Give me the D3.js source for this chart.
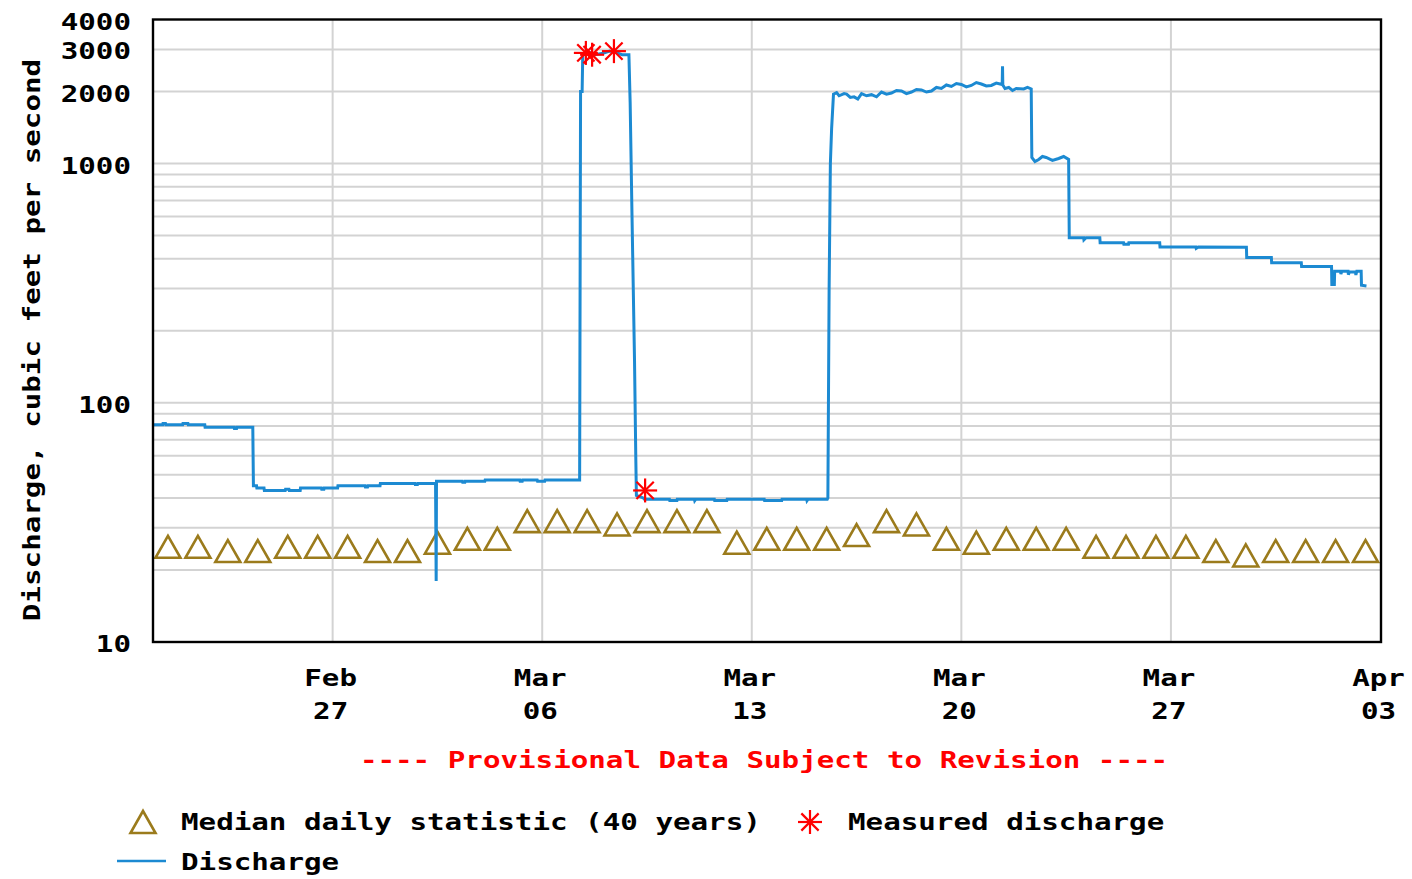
<!DOCTYPE html>
<html>
<head>
<meta charset="utf-8">
<script src="https://cdn.jsdelivr.net/npm/d3@7/dist/d3.min.js"></script>
<style>
  html, body { margin: 0; padding: 0; background: #fff; }
  svg { display: block; }
</style>
</head>
<body>
<svg id="chart" width="1412" height="879"></svg>
<script>
// Daily median of discharge (40 years), one value per day at noon, Feb 21 - Apr 2
const medianDays = ["2023-02-21","2023-02-22","2023-02-23","2023-02-24","2023-02-25","2023-02-26","2023-02-27",
  "2023-02-28","2023-03-01","2023-03-02","2023-03-03","2023-03-04","2023-03-05","2023-03-06","2023-03-07",
  "2023-03-08","2023-03-09","2023-03-10","2023-03-11","2023-03-12","2023-03-13","2023-03-14","2023-03-15",
  "2023-03-16","2023-03-17","2023-03-18","2023-03-19","2023-03-20","2023-03-21","2023-03-22","2023-03-23",
  "2023-03-24","2023-03-25","2023-03-26","2023-03-27","2023-03-28","2023-03-29","2023-03-30","2023-03-31",
  "2023-04-01","2023-04-02"];
const medianValues = [25,25,24,24,25,25,25,24,24,26,27,27,32,32,32,31,32,32,32,26,27,27,27,28,32,31,27,26,27,27,27,
  25,25,25,25,24,23,24,24,24,24];

// Field measurements of discharge
const measuredTimes = ["2023-03-07T11:00","2023-03-07T16:00","2023-03-08T09:30","2023-03-09T10:30"];
const measuredValues = [2900, 2850, 2950, 43];

// Provisional discharge record, cubic feet per second
const discharge = [
  ["2023-02-21T00:00", 81], ["2023-02-21T07:45", 81], ["2023-02-21T08:00", 82], ["2023-02-21T10:00", 82],
  ["2023-02-21T10:15", 81], ["2023-02-21T23:45", 81], ["2023-02-22T00:00", 82], ["2023-02-22T04:00", 82],
  ["2023-02-22T04:15", 81], ["2023-02-22T17:30", 81], ["2023-02-22T17:45", 79], ["2023-02-23T17:00", 79],
  ["2023-02-23T17:15", 78], ["2023-02-23T19:00", 78], ["2023-02-23T19:15", 79], ["2023-02-24T08:00", 79],
  ["2023-02-24T08:30", 45], ["2023-02-24T11:00", 45], ["2023-02-24T11:15", 44], ["2023-02-24T17:00", 44],
  ["2023-02-24T17:15", 43], ["2023-02-25T10:00", 43], ["2023-02-25T10:15", 43.5], ["2023-02-25T13:00", 43.5],
  ["2023-02-25T13:15", 43], ["2023-02-25T22:00", 43], ["2023-02-25T22:15", 44], ["2023-02-26T15:00", 44],
  ["2023-02-26T15:15", 43.5], ["2023-02-26T17:00", 43.5], ["2023-02-26T17:15", 44], ["2023-02-27T04:00", 44],
  ["2023-02-27T04:15", 45], ["2023-02-28T02:00", 45], ["2023-02-28T02:15", 44.5], ["2023-02-28T04:00", 44.5],
  ["2023-02-28T04:15", 45], ["2023-02-28T14:00", 45], ["2023-02-28T14:15", 46], ["2023-03-01T18:00", 46],
  ["2023-03-01T18:15", 45.5], ["2023-03-01T20:00", 45.5], ["2023-03-01T20:15", 46], ["2023-03-02T10:30", 46],
  ["2023-03-02T11:00", 18], ["2023-03-02T11:15", 47], ["2023-03-03T08:00", 47], ["2023-03-03T08:15", 46.5],
  ["2023-03-03T10:00", 46.5], ["2023-03-03T10:15", 47], ["2023-03-04T02:00", 47], ["2023-03-04T02:15", 47.5],
  ["2023-03-05T06:00", 47.5], ["2023-03-05T06:15", 47], ["2023-03-05T08:00", 47], ["2023-03-05T08:15", 47.5],
  ["2023-03-05T20:00", 47.5], ["2023-03-05T20:15", 47], ["2023-03-06T02:00", 47], ["2023-03-06T02:15", 47.5],
  ["2023-03-07T06:00", 47.5], ["2023-03-07T06:45", 2000], ["2023-03-07T08:00", 2000], ["2023-03-07T08:30", 2850],
  ["2023-03-07T14:00", 2900], ["2023-03-07T14:15", 2800], ["2023-03-07T18:00", 2850], ["2023-03-08T02:00", 2900],
  ["2023-03-08T06:00", 2950], ["2023-03-08T12:00", 2900], ["2023-03-08T16:00", 2850], ["2023-03-08T21:30", 2850],
  ["2023-03-08T22:30", 1800], ["2023-03-09T00:00", 600], ["2023-03-09T02:00", 150], ["2023-03-09T03:00", 60],
  ["2023-03-09T03:30", 41], ["2023-03-09T09:00", 40], ["2023-03-09T10:00", 39.5], ["2023-03-10T06:00", 39.5],
  ["2023-03-10T06:15", 39], ["2023-03-10T12:00", 39], ["2023-03-10T12:15", 39.5], ["2023-03-11T02:00", 39.5],
  ["2023-03-11T02:15", 39], ["2023-03-11T03:00", 39.5], ["2023-03-11T18:00", 39.5],
  ["2023-03-11T18:15", 39], ["2023-03-12T04:00", 39], ["2023-03-12T04:15", 39.5], ["2023-03-13T10:00", 39.5],
  ["2023-03-13T10:15", 39], ["2023-03-14T00:00", 39], ["2023-03-14T00:15", 39.5], ["2023-03-14T20:00", 39.5],
  ["2023-03-14T20:15", 39], ["2023-03-14T21:00", 39.5], ["2023-03-15T12:30", 39.5],
  ["2023-03-15T13:00", 40], ["2023-03-15T14:00", 300], ["2023-03-15T15:00", 1000], ["2023-03-15T16:00", 1400],
  ["2023-03-15T17:30", 1950], ["2023-03-15T20:00", 1980], ["2023-03-15T22:00", 1920], ["2023-03-16T02:00", 1960],
  ["2023-03-16T04:00", 1950], ["2023-03-16T07:00", 1890], ["2023-03-16T10:00", 1900], ["2023-03-16T13:00", 1860],
  ["2023-03-16T16:00", 1960], ["2023-03-16T20:00", 1920], ["2023-03-17T00:00", 1940], ["2023-03-17T04:00", 1900],
  ["2023-03-17T08:00", 1990], ["2023-03-17T12:00", 1950], ["2023-03-17T16:00", 1970], ["2023-03-17T20:00", 2020],
  ["2023-03-18T00:00", 2010], ["2023-03-18T04:00", 1960], ["2023-03-18T08:00", 1990], ["2023-03-18T12:00", 2040],
  ["2023-03-18T16:00", 2030], ["2023-03-18T20:00", 1990], ["2023-03-19T00:00", 2010], ["2023-03-19T04:00", 2080],
  ["2023-03-19T08:00", 2060], ["2023-03-19T12:00", 2130], ["2023-03-19T16:00", 2100], ["2023-03-19T20:00", 2160],
  ["2023-03-20T00:00", 2140], ["2023-03-20T04:00", 2090], ["2023-03-20T08:00", 2120], ["2023-03-20T12:00", 2180],
  ["2023-03-20T16:00", 2150], ["2023-03-20T20:00", 2110], ["2023-03-21T00:00", 2120], ["2023-03-21T04:00", 2170],
  ["2023-03-21T08:45", 2140], ["2023-03-21T09:00", 2550],
  ["2023-03-21T09:15", 2130], ["2023-03-21T11:00", 2060], ["2023-03-21T14:00", 2080], ["2023-03-21T17:00", 2020],
  ["2023-03-21T20:00", 2060], ["2023-03-22T02:00", 2050], ["2023-03-22T05:00", 2080],
  ["2023-03-22T08:00", 2050], ["2023-03-22T08:30", 1060], ["2023-03-22T11:00", 1020], ["2023-03-22T14:00", 1040],
  ["2023-03-22T17:00", 1070], ["2023-03-22T20:00", 1060], ["2023-03-23T01:00", 1030],
  ["2023-03-23T06:00", 1050], ["2023-03-23T10:00", 1070], ["2023-03-23T14:00", 1040], ["2023-03-23T14:30", 490],
  ["2023-03-24T02:00", 490], ["2023-03-24T02:15", 480], ["2023-03-24T04:00", 490], ["2023-03-24T15:00", 490],
  ["2023-03-24T15:15", 467], ["2023-03-25T10:00", 467], ["2023-03-25T10:15", 460], ["2023-03-25T14:00", 460],
  ["2023-03-25T14:15", 467], ["2023-03-26T15:00", 467], ["2023-03-26T15:15", 448], ["2023-03-27T20:00", 448],
  ["2023-03-27T20:15", 442], ["2023-03-27T22:00", 448], ["2023-03-29T12:30", 447],
  ["2023-03-29T12:45", 405], ["2023-03-30T08:30", 405], ["2023-03-30T08:45", 385], ["2023-03-31T08:30", 385],
  ["2023-03-31T08:45", 371], ["2023-04-01T08:45", 371], ["2023-04-01T09:00", 312], ["2023-04-01T11:00", 312],
  ["2023-04-01T11:15", 355], ["2023-04-01T16:00", 355], ["2023-04-01T16:15", 345], ["2023-04-01T17:00", 355],
  ["2023-04-01T22:00", 355], ["2023-04-01T22:15", 343], ["2023-04-01T23:00", 352], ["2023-04-02T04:00", 352],
  ["2023-04-02T04:15", 342], ["2023-04-02T05:00", 355], ["2023-04-02T08:30", 355], ["2023-04-02T08:45", 310],
  ["2023-04-02T12:45", 308]
];

// Axis ticks and labels
const yTickValues = [10, 100, 1000, 2000, 3000, 4000];
const yTickLabels = ["10", "100", "1000", "2000", "3000", "4000"];
const yGridValues = [20,30,40,50,60,70,80,90,100,200,300,400,500,600,700,800,900,1000,2000,3000];
const xTickDates = ["2023-02-27","2023-03-06","2023-03-13","2023-03-20","2023-03-27","2023-04-03"];
const xTickMonths = ["Feb","Mar","Mar","Mar","Mar","Apr"];
const xTickDays = ["27","06","13","20","27","03"];

const parseTime = d3.utcParse("%Y-%m-%dT%H:%M");
const parseDay = d3.utcParse("%Y-%m-%d");

const svg = d3.select("#chart");
svg.append("rect").attr("width", 1412).attr("height", 879).attr("fill", "#fff");

const plot = { left: 153, right: 1381, top: 19.5, bottom: 642 };
const x = d3.scaleUtc()
  .domain([parseDay("2023-02-21"), parseDay("2023-04-03")])
  .range([plot.left, plot.right - 0.5]);
const y = d3.scaleLog().domain([10, 4000]).range([plot.bottom, plot.top]);

const FONT = "'DejaVu Sans Mono', 'Liberation Mono', monospace";
const SX = 1.27;

// Text helper: wide bold monospace lettering
function label(parent, px, py, str, anchor, color, rotate) {
  const g = parent.append("g")
    .attr("transform", `translate(${px},${py})` + (rotate ? ` rotate(${rotate})` : "") + ` scale(${SX},1)`);
  g.append("text")
    .attr("x", 0).attr("y", 0)
    .attr("text-anchor", anchor || "start")
    .attr("font-family", FONT)
    .attr("font-weight", "bold")
    .attr("font-size", 23)
    .attr("fill", color || "#000")
    .text(str);
  return g;
}

// Grid
const grid = svg.append("g").attr("stroke", "#d3d3d3").attr("stroke-width", 2);
grid.selectAll("line.h").data(yGridValues).join("line")
  .attr("class", "h")
  .attr("x1", plot.left).attr("x2", plot.right)
  .attr("y1", d => y(d)).attr("y2", d => y(d));
grid.selectAll("line.v").data(xTickDates.slice(0, -1)).join("line")
  .attr("class", "v")
  .attr("x1", d => x(parseDay(d))).attr("x2", d => x(parseDay(d)))
  .attr("y1", plot.top).attr("y2", plot.bottom);

// Median triangles
const TRI_COLOR = "#9b7b1c";
function trianglePath(cx, cy) {
  const w = 12.5, h = 20;
  return `M${cx},${cy - h / 2 - 1} L${cx + w},${cy + h / 2 + 1} L${cx - w},${cy + h / 2 + 1} Z`;
}
svg.append("g").selectAll("path").data(medianValues).join("path")
  .attr("d", (v, i) => trianglePath(x(d3.utcHour.offset(parseDay(medianDays[i]), 12)), y(v)))
  .attr("fill", "none")
  .attr("stroke", TRI_COLOR)
  .attr("stroke-width", 2.6)
  .attr("stroke-linejoin", "miter");

// Discharge line
const LINE_COLOR = "#1c8ad2";
const line = d3.line().x(d => x(parseTime(d[0]))).y(d => y(d[1]));
svg.append("path")
  .attr("d", line(discharge))
  .attr("fill", "none")
  .attr("stroke", LINE_COLOR)
  .attr("stroke-width", 3)
  .attr("stroke-linejoin", "miter");

// Measured discharge stars
function star(parent, cx, cy, r) {
  const g = parent.append("g").attr("stroke", "#ff0000").attr("stroke-width", 2.2);
  const d = r * 0.72;
  [[-r, 0, r, 0], [0, -r, 0, r], [-d, -d, d, d], [-d, d, d, -d]].forEach(s => {
    g.append("line").attr("x1", cx + s[0]).attr("y1", cy + s[1]).attr("x2", cx + s[2]).attr("y2", cy + s[3]);
  });
}
const starLayer = svg.append("g");
measuredValues.forEach((v, i) => star(starLayer, x(parseTime(measuredTimes[i])), y(v), 12));

// Frame
svg.append("rect")
  .attr("x", plot.left).attr("y", plot.top)
  .attr("width", plot.right - plot.left).attr("height", plot.bottom - plot.top)
  .attr("fill", "none").attr("stroke", "#000").attr("stroke-width", 2.4);

// Y tick labels
yTickValues.forEach((v, i) => label(svg, 131, y(v) + 10, yTickLabels[i], "end"));

// X tick labels
xTickDates.forEach((d, i) => {
  const px = x(parseDay(d)) - 2;
  label(svg, px, 686, xTickMonths[i], "middle");
  label(svg, px, 719, xTickDays[i], "middle");
});

// Y axis title
label(svg, 40, 340, "Discharge, cubic feet per second", "middle", "#000", -90);

// Provisional notice
label(svg, 764, 768, "---- Provisional Data Subject to Revision ----", "middle", "#ff0000");

// Legend
svg.append("path").attr("d", trianglePath(143, 822))
  .attr("fill", "none").attr("stroke", TRI_COLOR).attr("stroke-width", 2.6);
label(svg, 181, 830, "Median daily statistic (40 years)", "start");
star(svg, 810, 822, 12);
label(svg, 848, 830, "Measured discharge", "start");
svg.append("line").attr("x1", 117).attr("x2", 166).attr("y1", 861).attr("y2", 861)
  .attr("stroke", LINE_COLOR).attr("stroke-width", 2.6);
label(svg, 181, 870, "Discharge", "start");
</script>
</body>
</html>
